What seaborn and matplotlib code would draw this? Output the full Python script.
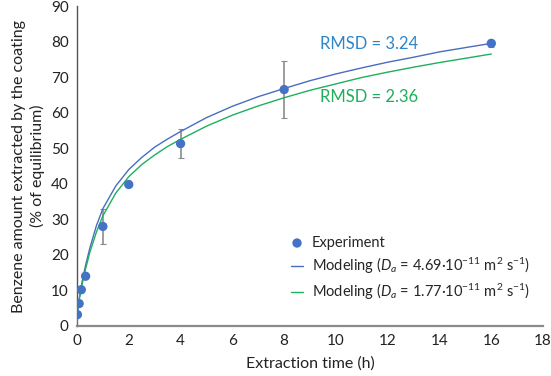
import seaborn as sns
import matplotlib.pyplot as plt
import pandas as pd

# Dados experimentais
exp_time = [0.017, 0.083, 0.167, 0.333, 1, 2, 4, 8, 16]
exp_amount = [3.2, 6.3, 10.2, 14.0, 28.0, 39.8, 51.3, 66.5, 79.5]
exp_err = [0, 0, 0, 0, 5.0, 0, 4.1, 8.0, 1.0]

# Curvas do modelo
model_time = [0, 0.02, 0.05, 0.1, 0.2, 0.33, 0.5, 0.75, 1, 1.5, 2, 2.5, 3, 3.5,
              4, 5, 6, 7, 8, 9, 10, 11, 12, 13, 14, 15, 16]
model_fast = [0, 3.5, 5.8, 8.3, 12.5, 17.0, 22.0, 28.2, 33.0, 39.4, 44.0, 47.4,
              50.3, 52.6, 54.7, 58.6, 61.8, 64.5, 66.8, 69.0, 70.9, 72.6, 74.2,
              75.6, 77.1, 78.3, 79.5]
model_slow = [0, 3.3, 5.5, 7.9, 11.8, 16.0, 20.8, 26.4, 31.0, 37.4, 42.0, 45.4,
              48.1, 50.5, 52.5, 56.2, 59.3, 61.9, 64.2, 66.3, 68.1, 69.9, 71.4,
              72.8, 74.1, 75.3, 76.5]

lab_exp = 'Experiment'
lab_fast = r'Modeling ($D_a$ = 4.69·10$^{-11}$ m$^2$ s$^{-1}$)'
lab_slow = r'Modeling ($D_a$ = 1.77·10$^{-11}$ m$^2$ s$^{-1}$)'

sns.set_style('white')
plt.rcParams['font.family'] = ['Lato', 'DejaVu Sans']
plt.rcParams['mathtext.fontset'] = 'custom'
plt.rcParams['mathtext.rm'] = 'Lato'
plt.rcParams['mathtext.it'] = 'Lato:italic'

exp_df = pd.DataFrame({'t': exp_time, 'y': exp_amount})
model_df = pd.DataFrame({'t': model_time, 'fast': model_fast, 'slow': model_slow})

fig = plt.figure(figsize=(5.51, 3.76), dpi=100)
ax = fig.add_axes([0.1397, 0.133, 0.846, 0.851])

blue = '#4472C4'
green = '#1DB05E'

ax.errorbar(exp_time, exp_amount, yerr=exp_err, fmt='none', ecolor='#8c8c8c',
            elinewidth=1.2, capsize=2.5, capthick=0.8, zorder=2)
sns.lineplot(data=model_df, x='t', y='fast', color='#4a6cc0', lw=1.0,
             label=lab_fast, ax=ax, zorder=3)
sns.lineplot(data=model_df, x='t', y='slow', color=green, lw=1.0,
             label=lab_slow, ax=ax, zorder=3)
sns.scatterplot(data=exp_df, x='t', y='y', color=blue, s=45, edgecolor='none',
                label=lab_exp, ax=ax, zorder=4)

ax.text(9.4, 79.3, 'RMSD = 3.24', color='#2E86C8', fontsize=12, va='center')
ax.text(9.4, 64.4, 'RMSD = 2.36', color='#1FAF5C', fontsize=12, va='center')

ax.set_xlim(0, 18)
ax.set_ylim(0, 90)
ax.set_xticks(range(0, 19, 2))
ax.set_yticks(range(0, 91, 10))
ax.tick_params(length=0, labelsize=11, colors='#222222', pad=6)
for s in ['top', 'right']:
    ax.spines[s].set_visible(False)
ax.spines['left'].set_color('#555555')
ax.spines['left'].set_linewidth(1.0)
ax.spines['bottom'].set_color('#8a8a8a')
ax.spines['bottom'].set_linewidth(1.6)

ax.set_xlabel('Extraction time (h)', fontsize=11.5, color='#222222', labelpad=6)
ax.set_ylabel('Benzene amount extracted by the coating\n(% of equilibrium)',
              fontsize=11.5, color='#222222', labelpad=4, linespacing=1.35)

h, l = ax.get_legend_handles_labels()
order = [l.index(lab_exp), l.index(lab_fast), l.index(lab_slow)]
ax.legend([h[i] for i in order], [l[i] for i in order], frameon=False,
          fontsize=10.5, loc='upper left', bbox_to_anchor=(0.447, 0.3),
          handlelength=0.8, handletextpad=0.6, labelspacing=0.4,
          borderaxespad=0)

fig.savefig('out.png', dpi=100)
